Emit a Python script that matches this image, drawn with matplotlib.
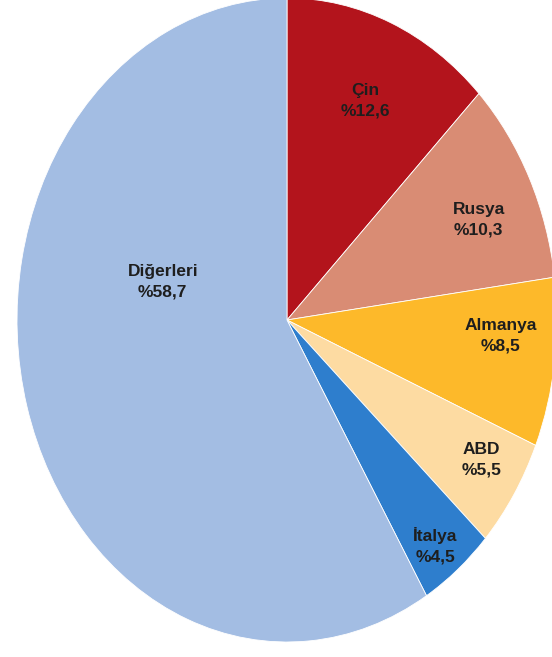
import matplotlib
matplotlib.use('Agg')
import matplotlib.pyplot as plt
import numpy as np

# 数据
ulkeler = ['Çin', 'Rusya', 'Almanya', 'ABD', 'İtalya', 'Diğerleri']
paylar = [12.6, 10.3, 8.5, 5.5, 4.5, 58.7]
etiketler = ['%12,6', '%10,3', '%8,5', '%5,5', '%4,5', '%58,7']
renkler = ['#B3141C', '#D98C74', '#FDB92A', '#FDDBA2', '#2E7ECD', '#A3BDE3']

# label positions (axes data coords, ellipse radius = 1)
label_pos = [(0.29, 0.68), (0.71, 0.31), (0.79, -0.05), (0.72, -0.435),
             (0.55, -0.70), (-0.46, 0.12)]

fig = plt.figure(figsize=(5.52, 6.57), dpi=100)
ax = fig.add_axes([17 / 552, 15 / 657, 540 / 552, 644 / 657])

wedges, _ = ax.pie(paylar, colors=renkler, startangle=90, counterclock=False,
                   radius=1, normalize=True,
                   wedgeprops=dict(edgecolor='white', linewidth=0.6))
ax.set_aspect('auto')
ax.set_xlim(-1, 1)
ax.set_ylim(-1, 1)
ax.axis('off')

for ad, et, (x, y) in zip(ulkeler, etiketler, label_pos):
    ax.text(x, y, f'{ad}\n{et}', ha='center', va='center', fontsize=12.5,
            fontweight='bold', family=['Liberation Sans', 'DejaVu Sans'],
            color='#1e1e1e', linespacing=1.45)

fig.savefig('out.png', dpi=100)
